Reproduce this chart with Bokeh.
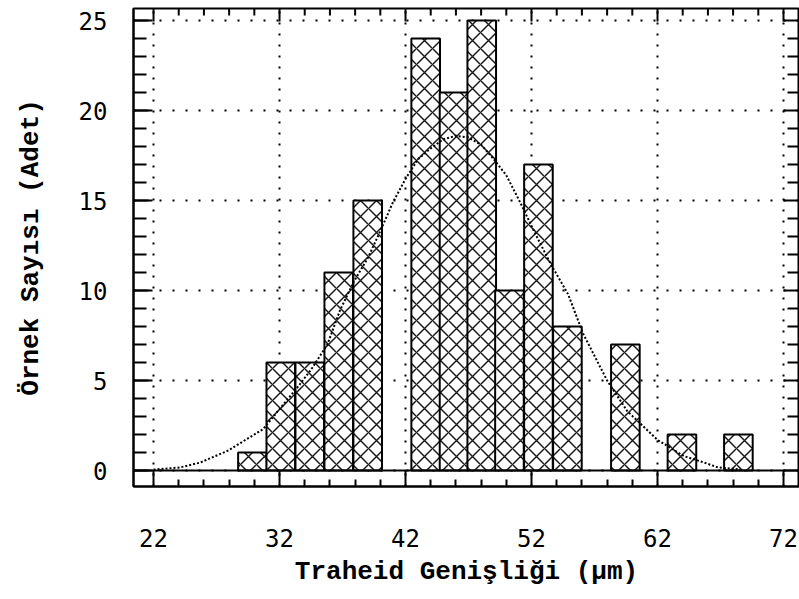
import math
from bokeh.plotting import figure
from bokeh.models import (FixedTicker, SingleIntervalTicker, LinearAxis, Span,
                          Range1d, Grid)
from bokeh.embed import file_html
from bokeh.resources import INLINE

# ---- data ----
bin_centers = [29.85, 32.1, 34.4, 36.7, 39.0, 43.6, 45.85, 48.05, 50.25,
               52.55, 54.85, 59.45, 63.94, 68.42]
counts = [1, 6, 6, 11, 15, 24, 21, 25, 10, 17, 8, 7, 2, 2]
bin_width = 2.27

curve_x = [22.0, 24.1, 25.7, 27.9, 30.7, 33.4, 34.5, 35.8, 36.8, 37.9, 39.0,
           40.0, 41.0, 42.0, 43.0, 44.0, 45.0, 46.0, 47.0, 48.0, 49.0, 50.0,
           51.1, 52.2, 53.5, 54.9, 56.1, 58.0, 59.6, 60.8, 62.0, 64.1, 65.7,
           66.8, 68.6]
curve_y = [0.05, 0.17, 0.44, 1.1, 2.3, 4.6, 5.6, 7.0, 8.9, 10.5, 11.8,
           13.3, 14.9, 16.2, 17.3, 17.9, 18.4, 18.6, 18.5, 18.1, 17.3, 16.4,
           14.9, 13.3, 11.5, 9.8, 7.6, 5.0, 3.3, 2.5, 1.7, 0.8, 0.44,
           0.17, 0.06]

x_ticks = [22, 32, 42, 52, 62, 72]
x_minor = [t for t in range(24, 72, 2) if t not in x_ticks]
y_ticks = [0, 5, 10, 15, 20, 25]
y_minor = [t for t in range(1, 26) if t not in y_ticks]
x_title = "Traheid Genişliği (μm)"
y_title = "Örnek Sayısı (Adet)"

x_lo, x_hi = 20.41, 73.27
y_lo, y_hi = -0.889, 25.67

p = figure(width=799, height=599, output_backend="svg", toolbar_location=None,
           x_range=Range1d(x_lo, x_hi), y_range=Range1d(y_lo, y_hi),
           x_axis_type=None, y_axis_type=None,
           min_border_left=133, min_border_right=0, min_border_top=8,
           min_border_bottom=113)
p.outline_line_color = "black"
p.outline_line_width = 2
p.background_fill_color = "white"
p.border_fill_color = "white"

xt = FixedTicker(ticks=x_ticks, minor_ticks=x_minor)
yt = SingleIntervalTicker(interval=5, num_minor_ticks=5)

tick_font = "DejaVu Sans Mono"
title_font = "Liberation Mono"

def style_axis(ax, maj_in, min_in):
    ax.major_tick_in = maj_in
    ax.major_tick_out = 0
    ax.minor_tick_in = min_in
    ax.minor_tick_out = 0
    ax.axis_line_width = 2
    ax.major_tick_line_width = 2
    ax.minor_tick_line_width = 2
    ax.axis_line_color = "black"
    ax.major_label_text_color = "black"
    ax.axis_label_text_color = "black"

xa = LinearAxis(ticker=xt, axis_label=x_title)
style_axis(xa, 16, 7)
xa.major_label_standoff = 42
xa.major_label_text_font = tick_font
xa.major_label_text_font_size = "24px"
xa.axis_label_text_font = title_font
xa.axis_label_text_font_style = "bold"
xa.axis_label_text_font_size = "26px"
xa.axis_label_standoff = 7
p.add_layout(xa, "below")

ya = LinearAxis(ticker=yt, axis_label=y_title)
style_axis(ya, 19, 13)
ya.major_label_standoff = 26
ya.major_label_text_font = tick_font
ya.major_label_text_font_size = "24px"
ya.axis_label_text_font = title_font
ya.axis_label_text_font_style = "bold"
ya.axis_label_text_font_size = "26px"
ya.axis_label_standoff = 30
p.add_layout(ya, "left")

p.add_layout(Grid(dimension=0, ticker=xt, grid_line_color="black",
                  grid_line_width=2, grid_line_dash="2 9"))
p.add_layout(Grid(dimension=1, ticker=yt, grid_line_color="black",
                  grid_line_width=2, grid_line_dash="2 11"))

# top ruler ticks (pointing down) and right ruler ticks (pointing left)
p.ray(x=x_ticks, y=[y_hi] * len(x_ticks), length=13, angle=-math.pi / 2,
      length_units="screen", line_width=2, line_color="black")
p.ray(x=x_minor, y=[y_hi] * len(x_minor), length=7, angle=-math.pi / 2,
      length_units="screen", line_width=2, line_color="black")
p.ray(x=[x_hi] * len(y_ticks), y=y_ticks, length=16, angle=math.pi,
      length_units="screen", line_width=2, line_color="black")
p.ray(x=[x_hi] * len(y_minor), y=y_minor, length=12, angle=math.pi,
      length_units="screen", line_width=2, line_color="black")

p.vbar(x=bin_centers, top=counts, width=bin_width, bottom=0,
       fill_color="white", line_color="black", line_width=2,
       hatch_pattern="x", hatch_scale=16, hatch_weight=1.5,
       hatch_color="#1a1a1a")

p.line(curve_x, curve_y, line_dash="2 2", line_width=2, line_color="black")

p.add_layout(Span(location=0, dimension="width", line_color="black",
                  line_width=2))

open("out.html", "w").write(file_html(p, INLINE))
